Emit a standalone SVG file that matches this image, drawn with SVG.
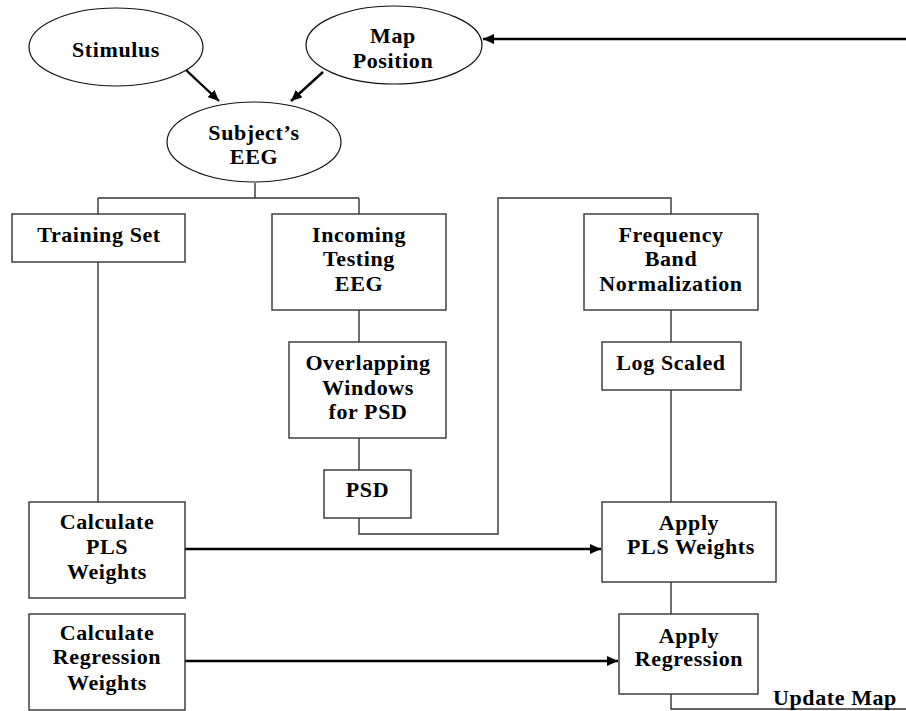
<svg xmlns="http://www.w3.org/2000/svg" width="906" height="711" viewBox="0 0 906 711">
<style>
text{font-family:"Liberation Serif","Times New Roman",serif;font-weight:bold;font-size:22px;letter-spacing:0.6px;fill:#000;text-anchor:middle}
.box{fill:#fff;stroke:#333;stroke-width:1.4}
.ell{fill:#fff;stroke:#111;stroke-width:1.2}
.thin{fill:none;stroke:#333;stroke-width:1.4}
.thick{fill:none;stroke:#000;stroke-width:2.4}
</style>
<defs>
<marker id="ah" markerWidth="12" markerHeight="10" refX="11" refY="5" orient="auto" markerUnits="userSpaceOnUse">
<path d="M0,0 L11,5 L0,10 Z" fill="#000"/>
</marker>
</defs>
<g id="connectors">
<path class="thick" d="M186,70 L219,101" marker-end="url(#ah)"/>
<path class="thick" d="M323,72 L291,101" marker-end="url(#ah)"/>
<path class="thick" d="M906,39 L483,39" marker-end="url(#ah)"/>
<path class="thin" d="M255,183 L255,198 M98,198 L359,198 M98,198 L98,214 M359,198 L359,214"/>
<path class="thin" d="M98,262 L98,502"/>
<path class="thin" d="M359,310 L359,342 M359,438 L359,470"/>
<path class="thin" d="M359,518 L359,534 L498,534 L498,198 L671,198 L671,214"/>
<path class="thin" d="M671,310 L671,342 M671,390 L671,502 M671,582 L671,614"/>
<path class="thin" d="M671,694 L671,709 L906,709"/>
<path class="thick" d="M185,549 L601,549" marker-end="url(#ah)"/>
<path class="thick" d="M185,661 L618,661" marker-end="url(#ah)"/>
</g>
<g id="stimulus"><ellipse class="ell" cx="116" cy="47" rx="87" ry="39"/><text x="116" y="57">Stimulus</text></g>
<g id="map-position"><ellipse class="ell" cx="394" cy="45" rx="88" ry="39"/><text x="393" y="43">Map</text><text x="393" y="68">Position</text></g>
<g id="subjects-eeg"><ellipse class="ell" cx="254" cy="142" rx="87" ry="40"/><text x="254" y="140">Subject’s</text><text x="254" y="164">EEG</text></g>
<g id="training-set"><rect class="box" x="12" y="214" width="173" height="48"/><text x="99" y="242">Training Set</text></g>
<g id="incoming-testing-eeg"><rect class="box" x="272" y="214" width="174" height="96"/><text x="359" y="242">Incoming</text><text x="359" y="266">Testing</text><text x="359" y="291">EEG</text></g>
<g id="overlapping-windows"><rect class="box" x="289" y="342" width="157" height="96"/><text x="368" y="369.5">Overlapping</text><text x="368" y="395">Windows</text><text x="368" y="419">for PSD</text></g>
<g id="psd"><rect class="box" x="324" y="470" width="87" height="48"/><text x="367.5" y="497">PSD</text></g>
<g id="frequency-band-normalization"><rect class="box" x="584" y="214" width="174" height="96"/><text x="671" y="242">Frequency</text><text x="671" y="266">Band</text><text x="671" y="291">Normalization</text></g>
<g id="log-scaled"><rect class="box" x="602" y="342" width="139" height="48"/><text x="671" y="370">Log Scaled</text></g>
<g id="calculate-pls-weights"><rect class="box" x="29" y="502" width="156" height="96"/><text x="107" y="529">Calculate</text><text x="107" y="554">PLS</text><text x="107" y="579">Weights</text></g>
<g id="calculate-regression-weights"><rect class="box" x="29" y="614" width="156" height="96"/><text x="107" y="640">Calculate</text><text x="107" y="664">Regression</text><text x="107" y="690">Weights</text></g>
<g id="apply-pls-weights"><rect class="box" x="602" y="502" width="174" height="80"/><text x="689" y="530">Apply</text><text x="691" y="554">PLS Weights</text></g>
<g id="apply-regression"><rect class="box" x="619" y="614" width="139" height="80"/><text x="689" y="643">Apply</text><text x="689" y="666">Regression</text></g>
<g id="update-map-label"><text x="773" y="705" style="text-anchor:start">Update Map</text></g>
</svg>
